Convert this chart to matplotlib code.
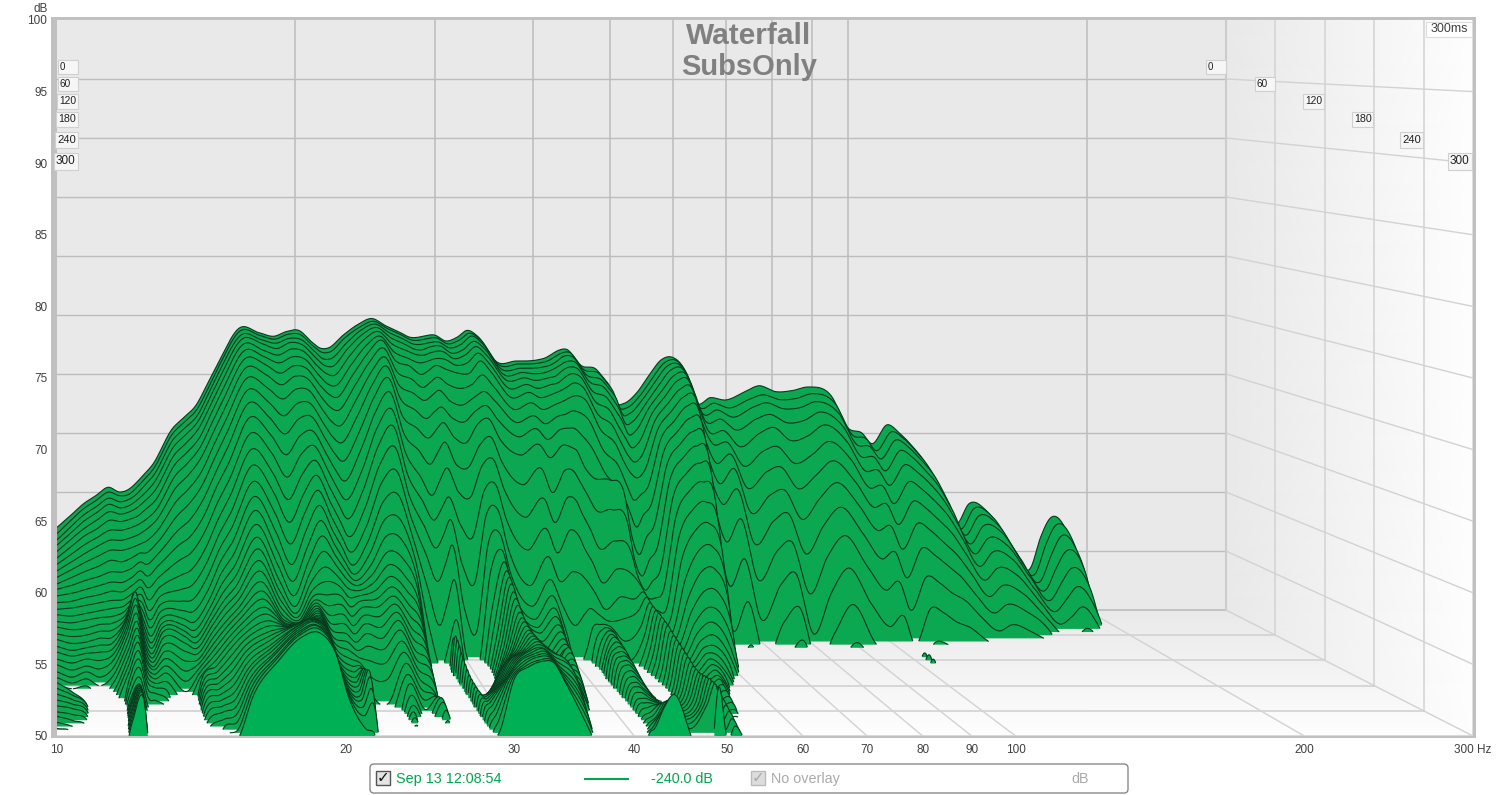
import numpy as np
import matplotlib
matplotlib.use("Agg")
import matplotlib.pyplot as plt
from matplotlib.colors import LinearSegmentedColormap
from matplotlib.patches import FancyBboxPatch, Rectangle
from matplotlib.ticker import NullLocator

plt.rcParams["font.family"] = ["Liberation Sans", "DejaVu Sans"]

# -------------------------------
# DATA (dB per time slice, one list per frequency, 7.5 ms steps)
# a list ends where that frequency stays under the 50 dB floor
# -------------------------------
times_ms = [0, 7.5, 15, 22.5, 30, 37.5, 45, 52.5, 60, 67.5, 75, 82.5, 90, 97.5, 105, 112.5, 120,
            127.5, 135, 142.5, 150, 157.5, 165, 172.5, 180, 187.5, 195, 202.5, 210, 217.5, 225,
            232.5, 240, 247.5, 255, 262.5, 270, 277.5, 285, 292.5, 300]

freqs_hz = [10, 10.4, 10.8, 11.2, 11.6, 12, 12.3, 12.6, 12.8, 13.2, 14, 14.4, 15, 15.5, 16, 17, 18,
            18.8, 19.5, 20.2, 21, 21.5, 22, 23, 24, 25, 26, 27, 28, 28.5, 29, 30, 31, 32, 33, 34,
            36, 38, 39, 40.5, 41.5, 42, 43, 44, 46, 48, 49, 50, 51, 52, 54, 56, 58, 60, 62, 64, 67,
            70, 74, 77, 81, 85, 89, 95, 100, 104, 107, 112, 116, 120, 125, 130, 137, 142, 150, 160,
            170, 175, 180, 190, 200]

db_10 = [57.0, 56.7, 56.4, 56.2, 55.9, 55.6, 55.3, 55, 54.7, 54.4, 54.2, 53.9, 53.6, 53.3, 53.1, 52.8, 52.6, 52.3, 52.1, 51.8, 51.6, 51.3, 51.1, 50.8, 50.6, 50.3, 49.9, 49.5, 49.5, 50.2, 51.6, 51.4, 51.2, 51, 50.8, 50.6, 50.5, 50.3, 50.1, 49.8, 49.5]
db_10_4 = [58.0, 57.8, 57.5, 57.2, 56.9, 56.5, 56.1, 55.7, 55.3, 54.9, 54.5, 54.1, 53.7, 53.4, 53, 52.7, 52.4, 52.1, 51.8, 51.5, 51.3, 51, 50.7, 50.4, 50.2, 50, 49.6, 49.4, 49.4, 49.6, 50.9, 50.9, 50.8, 50.7, 50.6, 50.4, 50.2, 50, 49.7, 49.5]
db_10_8 = [59, 58.8, 58.5, 58.2, 57.8, 57.4, 56.9, 56.4, 55.9, 55.4, 54.9, 54.4, 54, 53.6, 53.2, 52.9, 52.5, 52.2, 51.9, 51.7, 51.5, 51.3, 51, 50.8, 50.5, 50.2, 49.8, 49.4, 49.3, 49.4, 49.9, 50.1, 50.1, 50.1, 50, 49.9, 49.7, 49.4]
db_11_2 = [59.7, 59.5, 59.2, 58.9, 58.5, 58, 57.5, 57, 56.4, 55.8, 55.2, 54.7, 54.2, 53.8, 53.4, 53.1, 52.8, 52.5, 52.2, 51.9, 51.6, 51.2, 50.8, 50.4, 50, 49.5, 49.2]
db_11_6 = [60.4, 60.2, 59.9, 59.6, 59.2, 58.7, 58.1, 57.5, 56.9, 56.3, 55.6, 55, 54.5, 54, 53.6, 53.2, 52.9, 52.6, 52.3, 52.1, 51.9, 51.7, 51.5, 51.2, 50.9, 50.6, 50.2, 49.8, 49.4]
db_12 = [60, 59.9, 59.6, 59.3, 59, 58.6, 58.1, 57.5, 56.9, 56.2, 55.6, 55, 54.5, 54.1, 53.8, 53.6, 53.5, 53.5, 53.6, 53.8, 53.8, 53.7, 53.6, 53.4, 53.1, 52.8, 52.5, 52.2, 51.9, 51.6, 51.3, 51, 50.8, 50.8, 50.9, 51, 51, 51.1, 51.1, 51.1, 51.1]
db_12_3 = [60.2, 60, 59.8, 59.5, 59.2, 58.8, 58.3, 57.7, 57.1, 56.5, 55.9, 55.4, 55, 54.6, 54.4, 54.4, 54.6, 55.1, 55.6, 56, 56.2, 55.9, 55.6, 55.2, 54.8, 54.5, 54.2, 53.9, 53.5, 53.1, 52.7, 52.2, 51.9, 51.9, 52, 52.2, 52.3, 52.5, 52.6, 52.7, 52.7]
db_12_6 = [60.8, 60.6, 60.3, 60, 59.6, 59.1, 58.6, 58, 57.4, 56.9, 56.4, 55.9, 55.4, 55, 54.6, 54.2, 53.8, 53.4, 53.1, 52.8, 52.5, 52.3, 52.1, 51.9, 51.8, 51.6, 51.5, 51.3, 51.1, 50.8, 50.4, 49.9, 49.5]
db_12_8 = [61.3, 61.1, 60.8, 60.4, 60, 59.5, 58.9, 58.3, 57.6, 56.9, 56.2, 55.5, 54.8, 54.1, 53.5, 53, 52.6, 52.2, 51.9, 51.7, 51.5, 51.4, 51.3, 51.2, 51.2, 51.1, 51, 50.9, 50.8, 50.6, 50.3, 49.8, 49.5]
db_13_2 = [62.3, 62.1, 61.8, 61.4, 60.9, 60.3, 59.7, 59.1, 58.4, 57.7, 57, 56.3, 55.6, 55, 54.5, 54.1, 53.8, 53.5, 53.3, 53.2, 53.1, 52.9, 52.6, 52.3, 52, 51.7, 51.4, 51, 50.6, 50.2, 49.8, 49.4]
db_14 = [65.4, 65.2, 64.9, 64.5, 64, 63.4, 62.7, 61.9, 61, 60, 59, 58, 57, 56, 55.1, 54.4, 53.9, 53.5, 53.2, 53, 52.8, 52.5, 52.1, 51.6, 51.1, 50.6, 50.1, 49.6]
db_14_4 = [66.2, 66, 65.7, 65.3, 64.8, 64.2, 63.5, 62.7, 61.8, 60.8, 59.7, 58.6, 57.5, 56.4, 55.4, 54.5, 53.8, 53.2, 52.8, 52.5, 52.3, 52.1, 51.9, 51.7, 51.6, 51.5, 51.4, 51.3, 51.2, 51.1, 51, 50.9, 50.8, 50.6, 50.4, 50.2, 49.9, 49.6]
db_15 = [67.4, 67.2, 66.9, 66.6, 66.2, 65.6, 65, 64.3, 63.4, 62.5, 61.5, 60.4, 59.3, 58.2, 57.2, 56.3, 55.5, 54.9, 54.5, 54.2, 54, 53.8, 53.6, 53.4, 53.2, 53, 52.8, 52.6, 52.4, 52.2, 52, 51.8, 51.6, 51.4, 51.2, 51, 50.8, 50.5, 50.2, 49.8, 49.4]
db_15_5 = [69.2, 69, 68.8, 68.5, 68.1, 67.6, 67, 66.3, 65.5, 64.6, 63.6, 62.6, 61.5, 60.4, 59.4, 58.5, 57.7, 57, 56.4, 55.9, 55.5, 55.2, 54.9, 54.6, 54.4, 54.2, 54, 53.8, 53.6, 53.3, 53, 52.7, 52.4, 52.1, 51.8, 51.5, 51.2, 50.9, 50.6, 50.3, 50]
db_16 = [71, 70.9, 70.7, 70.4, 70, 69.5, 68.9, 68.2, 67.4, 66.5, 65.5, 64.4, 63.3, 62.2, 61.1, 60.1, 59.2, 58.4, 57.7, 57.1, 56.6, 56.2, 55.9, 55.6, 55.4, 55.2, 55, 54.8, 54.6, 54.4, 54.2, 54, 53.8, 53.6, 53.4, 53.3, 53.1, 53, 52.9, 52.8, 52.7]
db_17 = [73.9, 73.8, 73.6, 73.4, 73.1, 72.7, 72.2, 71.6, 70.9, 70.1, 69.2, 68.2, 67.1, 66, 64.9, 63.8, 62.8, 61.9, 61, 60.2, 59.5, 58.8, 58.2, 57.6, 57.1, 56.7, 56.3, 56, 55.7, 55.5, 55.3, 55.2, 55.1, 55, 55, 55, 55, 55.1, 55.1, 55.2, 55.2]
db_18 = [73.5, 73.4, 73.2, 73, 72.6, 72.2, 71.7, 71, 70.1, 69.1, 68, 66.8, 65.5, 64.1, 62.7, 61.3, 60, 58.8, 57.8, 56.9, 56.2, 55.7, 55.3, 55, 54.9, 54.9, 55, 55.1, 55.3, 55.5, 55.7, 55.9, 56.1, 56.2, 56.4, 56.5, 56.6, 56.7, 56.8, 56.9, 56.9]
db_18_8 = [73.2, 73.1, 72.9, 72.6, 72.2, 71.7, 71, 70.2, 69.2, 68, 66.7, 65.2, 63.6, 62, 60.4, 58.9, 57.5, 56.4, 55.5, 54.9, 54.6, 54.5, 54.5, 54.6, 54.8, 55, 55.2, 55.4, 55.7, 55.9, 56.2, 56.4, 56.6, 56.8, 57, 57.1, 57.2, 57.2, 57.3, 57.3, 57.2]
db_19_5 = [73.6, 73.5, 73.3, 73.1, 72.7, 72.2, 71.6, 70.9, 70, 69, 67.9, 66.7, 65.4, 64, 62.6, 61.3, 60.1, 59, 58.1, 57.4, 56.9, 56.5, 56.3, 56.2, 56.2, 56.2, 56.2, 56.2, 56.2, 56.2, 56.2, 56.2, 56.2, 56.2, 56.2, 56.2, 56.1, 56.1, 56, 56, 55.9]
db_20_2 = [73.7, 73.5, 73.2, 72.9, 72.5, 72, 71.4, 70.7, 69.9, 69, 68.1, 67.1, 66.1, 65.1, 64.1, 63.1, 62.1, 61.1, 60.1, 59.1, 58.1, 57.2, 56.4, 55.8, 55.3, 54.9, 54.6, 54.3, 54.1, 53.9, 53.7, 53.5, 53.4, 53.3, 53.2, 53.1, 53, 52.9, 52.8, 52.7, 52.5]
db_21 = [72.7, 72.5, 72.2, 71.8, 71.3, 70.7, 70, 69.2, 68.3, 67.3, 66.3, 65.2, 64.1, 63, 61.9, 60.9, 60, 59.2, 58.5, 57.9, 57.3, 56.8, 56.3, 55.8, 55.3, 54.8, 54.3, 53.9, 53.5, 53.1, 52.8, 52.6, 52.4, 52.3, 52.2, 52.1, 52, 51.9, 51.6, 51.2, 50.5]
db_21_5 = [72.2, 72, 71.6, 71.2, 70.7, 70, 69.3, 68.4, 67.4, 66.3, 65.2, 64, 62.8, 61.7, 60.6, 59.6, 58.8, 58.1, 57.5, 57, 56.5, 56, 55.5, 55, 54.5, 54.1, 53.7, 53.3, 53, 52.8, 52.7, 52.7, 52.8, 53, 53.2, 53.4, 53.6, 53.3, 52.7, 51.9, 50]
db_22 = [72.2, 72, 71.6, 71.1, 70.5, 69.8, 69, 68.1, 67, 65.8, 64.5, 63.1, 61.8, 60.5, 59.3, 58.3, 57.5, 57, 56.7, 56.5, 56.3, 56.1, 55.9, 55.6, 55.2, 54.8, 54.3, 53.6, 52.8, 51.9, 50.9, 49.9, 49.3]
db_23 = [73.3, 73.2, 72.9, 72.6, 72.1, 71.5, 70.8, 70, 69, 67.9, 66.7, 65.4, 64, 62.7, 61.4, 60.2, 59.2, 58.4, 57.8, 57.3, 56.9, 56.5, 56.1, 55.7, 55.2, 54.6, 54, 53.4, 52.6, 51.6, 50.1, 49.3]
db_24 = [74.2, 74.1, 74, 73.8, 73.5, 73.1, 72.6, 72, 71.3, 70.5, 69.6, 68.6, 67.5, 66.3, 65, 63.7, 62.4, 61.2, 60.1, 59.1, 58.3, 57.6, 57, 56.5, 56.1, 55.7, 55.3, 54.8, 54.2, 53.6, 53, 52.4, 51.9, 51.3, 50.8, 50.6, 50.4, 50.1, 49.6]
db_25 = [74.7, 74.6, 74.5, 74.35, 74.15, 73.9, 73.7, 73.2, 72.6, 72, 71.2, 70.2, 69, 67.8, 66.3, 64.6, 62.9, 61.2, 59.8, 58.5, 57.4, 56.5, 55.7, 55, 54.3, 53.7, 53.1, 52.6, 52.1, 51.6, 51.1, 50.6, 50.1, 49.6, 49.3]
db_26 = [74.1, 74, 73.8, 73.5, 73.1, 72.6, 72, 71.2, 70.3, 69.3, 68.1, 66.8, 65.4, 63.9, 62.4, 60.9, 59.5, 58.2, 57, 56, 55.1, 54.4, 53.8, 53.3, 52.8, 52.4, 52, 51.6, 51.1, 50.5, 50.4, 50.6, 50.9, 51.1, 51, 50.7, 50.2, 49.6]
db_27 = [73.6, 73.5, 73.3, 73, 72.6, 72.1, 71.6, 70.7, 69.7, 68.5, 67.2, 65.6, 63.7, 62, 60.2, 58.2, 55.8, 52.9, 50.3, 48.5, 48]
db_28 = [73.1, 73, 72.8, 72.5, 72.2, 71.7, 70.9, 70, 69.1, 67.8, 66.4, 64.5, 62.2, 60.4, 58.4, 56, 52.8, 49.8, 48.5]
db_28_5 = [73.1, 73, 72.8, 72.5, 72.2, 71.8, 71.2, 70.4, 69.5, 68.3, 67, 65.4, 63.3, 61.3, 59.4, 57.3, 54.5, 51.6, 50.4, 52.4, 52.8, 52.7, 52.5, 52.2, 52, 51.8, 51.6, 51.4, 51.3, 51.2, 51.1, 51, 50.9, 50.8, 50.7, 50.6, 50.5, 50.3, 50.1, 49.7, 49.4]
db_29 = [73.2, 73.1, 72.9, 72.7, 72.4, 72, 71.6, 70.8, 69.9, 68.7, 67.6, 66.2, 64.3, 62.2, 60.6, 58.8, 56.3, 53.4, 50.9, 49.6, 49.8, 49.8, 49.3, 49.2, 49.3, 49.5, 49.8, 50, 50.2, 50.5, 50.7, 50.9, 51, 51.1, 51.2, 51.3, 51.3, 51.2, 51.1, 50.8, 50.4]
db_30 = [73.3, 73.2, 73, 72.8, 72.5, 72, 71.3, 70.2, 69, 67.8, 66.4, 64.4, 62.4, 60, 57, 53.8, 50.4, 48.5, 48, 48, 48, 48, 48, 48, 48, 49.2, 49.8, 50.2, 50.6, 51, 51.3, 51.6, 51.9, 52.2, 52.5, 52.8, 53.1, 53.4, 53.6, 53.8, 54]
db_31 = [72.8, 72.7, 72.5, 72.2, 71.9, 71.5, 71, 69.9, 68.7, 67.5, 66, 64.2, 62, 59, 55.6, 52, 49.6, 48.5, 48.3, 48.5, 48.8, 49.1, 49.4, 49.8, 50.3, 50.9, 51.4, 51.9, 52.4, 52.8, 53.1, 53.4, 53.6, 53.8, 54, 54.2, 54.4, 54.5, 54.6, 54.7, 54.8]
db_32 = [73.1, 73, 72.8, 72.5, 72.2, 71.7, 71, 70.2, 69.3, 68.4, 67.5, 66, 64.5, 62.7, 61, 59, 56.9, 54.5, 53.4, 52.6, 52.4, 52.3, 52.3, 52.4, 52.6, 52.8, 53, 53.3, 53.5, 53.7, 53.9, 54.1, 54.3, 54.5, 54.7, 54.8, 54.9, 55, 55.1, 55.1, 55.2]
db_33 = [73.7, 73.6, 73.5, 73.2, 72.9, 72.5, 72, 71, 69.8, 68.8, 67.9, 66.6, 65, 63.2, 61.4, 59.7, 58.6, 57.9, 57.4, 57.1, 56.8, 56.4, 56.1, 55.8, 55.5, 55.3, 55.2, 55.1, 55, 55, 55, 55, 55, 55, 55, 55.1, 55.1, 55.1, 55.1, 55.1, 55.1]
db_34 = [73.2, 73.1, 72.9, 72.6, 72.2, 71.7, 71.1, 70.1, 69, 67.7, 66.3, 64.6, 62.6, 60.4, 58.2, 56.5, 55.4, 54.8, 54.6, 54.4, 54.3, 54.1, 53.9, 53.8, 53.8, 53.8, 53.9, 54, 54.1, 54.2, 54.3, 54.4, 54.5, 54.5, 54.4, 54.3, 54.2, 54.1, 54, 53.8, 53.6]
db_36 = [71, 70.9, 70.7, 70.4, 70.1, 69.6, 69, 68.2, 67.3, 66.3, 65, 62.8, 60.4, 58, 55.4, 54, 53.2, 52.8, 52.6, 52.2, 51.8, 51.6, 51.5, 51.5, 51.5, 51.6, 51.8, 52, 52.2, 52.4, 52.6, 52.8, 52.9, 53, 52.9, 52.6, 52.2, 51.8, 51.4, 50.9, 50.3]
db_38 = [71.1, 71, 70.8, 70.6, 70.3, 69.9, 69.4, 68.7, 67.8, 66.9, 65.8, 64, 61.8, 59.6, 57.6, 56, 54.9, 54.1, 53.6, 53.2, 52.9, 52.6, 52.4, 52.2, 52, 51.8, 51.5, 51.2, 50.9, 50.5, 50.1, 49.6, 49.3]
db_39 = [71.1, 71, 70.8, 70.5, 70.1, 69.6, 69, 68.2, 67.2, 66.1, 64.8, 62.2, 60, 57.8, 55.8, 54.2, 52.8, 51.8, 51.2, 50.8, 50.5, 50.3, 50.1, 49.6]
db_40_5 = [71.2, 71.1, 70.9, 70.6, 70.3, 69.9, 69.3, 68.6, 67.8, 66.9, 65.8, 64, 62, 59.6, 56.5, 52.5, 49.5, 48]
db_41_5 = [71.4, 71.3, 71.1, 70.9, 70.5, 70.1, 69.6, 68.9, 68, 67, 65.6, 63.8, 61.6, 59, 56.2, 53.4, 51, 49.4, 48.7, 48.4, 48.4, 48.4, 48.4, 48.4, 48.4, 48.4, 48.4, 48.4, 48.4, 48.4, 48.4, 48.4, 48.6, 48.8, 49, 49.2, 49.4, 49.6, 49.7, 50, 50.2]
db_42 = [71.6, 71.5, 71.3, 71.1, 70.8, 70.4, 69.8, 69.1, 68.2, 67, 65.4, 63.2, 60.8, 58.2, 55.8, 53.8, 52.4, 51.4, 50.8, 50.5, 50.5, 50.8, 51, 51.1, 51.1, 51, 50.9, 50.7, 50.6, 50.5, 50.5, 50.4, 50.3, 50.3, 50.2, 50.1, 50.1, 50.1, 50.2, 50.3, 50.5]
db_43 = [72, 71.9, 71.8, 71.5, 71.2, 70.8, 70.2, 69.3, 68.1, 66.4, 64, 62, 59.5, 57, 54.8, 53.4, 52.8, 52.7, 52.6, 52.6, 52.6, 52.5, 52.4, 52.3, 52.2, 52.1, 52, 51.8, 51.6, 51.4, 51.3, 51.1, 50.9, 50.8, 50.7, 50.6, 50.6, 50.7, 51, 51.5, 52]
db_44 = [72.1, 72, 71.8, 71.5, 71.1, 70.6, 69.9, 69, 67.6, 65.6, 63.2, 60.8, 58, 55.5, 53.6, 52.9, 52.7, 52.6, 52.6, 52.4, 52.4, 52.3, 52.2, 52, 51.9, 51.7, 51.5, 51.3, 51.1, 50.9, 50.8, 50.7, 50.7, 50.7, 50.9, 51.2, 51.5, 51.8, 52.1, 52.5, 52.9]
db_46 = [70.7, 70.5, 70.2, 69.8, 69.2, 68.5, 67.6, 66.5, 65, 63.2, 63, 60.8, 58.5, 56.5, 54.5, 53, 51.5, 50.2, 49.4, 49.2, 49.2, 49.3, 49.3, 49.4, 49.5, 49.6, 49.7, 49.8, 49.9, 50, 50.1, 50.2, 50.3, 50.3, 50.4, 50.4, 50.5, 50.5, 50.4, 50.3, 49.8]
db_48 = [70.4, 70.2, 69.8, 69.3, 68.6, 67.7, 66.6, 65.3, 63.7, 61.9, 61.8, 59.8, 57.8, 56, 54.4, 53.7, 52.8, 52.2, 51.9, 51.6, 51.4, 51.2, 51, 50.8, 50.6, 50.5, 50.5, 50.5, 50.6, 50.7, 50.8, 50.9, 51, 51.1, 51.2, 51.3, 51.4, 51.6, 51.8, 52]
db_49 = [69.7, 69.5, 69.1, 68.5, 67.7, 66.6, 65.4, 64, 62.3, 60.4, 58.4, 56.7, 55.7, 55.2, 54.9, 54.7, 54.5, 54.4, 54.3, 54.3, 54.2, 54.1, 54, 53.8, 53.7, 53.6, 53.5, 53.4, 53.3, 53.2, 53.1, 53, 53, 53, 53.1, 53.2, 53.3, 53.4, 53.4, 53.4, 53.4]
db_50 = [68.9, 68.7, 68.3, 67.6, 66.8, 65.6, 64.3, 63, 61, 59, 57, 55.5, 54.6, 54.2, 53.9, 53.7, 53.5, 53.4, 53.3, 53.2, 53.2, 53.1, 53, 52.9, 52.7, 52.6, 52.5, 52.4, 52.3, 52.2, 52.1, 52, 51.9, 51.7, 51.5, 51.3, 51.1, 50.9, 50.6, 50.3, 49.9]
db_51 = [67.5, 67.3, 66.9, 66.3, 65.6, 64.7, 63.7, 62.6, 61.4, 60, 58.4, 56.8, 55.3, 54.2, 53.4, 52.9, 52.5, 52.2, 52, 51.8, 51.7, 51.6, 51.6, 51.5, 51.5, 51.5, 51.5, 51.5, 51.6, 51.7, 51.8, 51.9, 52, 52, 52, 51.9, 51.7, 51.5, 51.3, 51, 50.7]
db_52 = [67.5, 67.3, 67, 66.5, 65.9, 65.1, 64.2, 63.2, 62, 60.7, 59.2, 57.6, 56, 54.6, 53.4, 52.6, 52.1, 51.8, 51.5, 51.3, 51.2, 51.1, 51.1, 51.1, 51, 51, 51, 51, 50.9, 50.9, 50.8, 50.7, 50.6, 50.5, 50.4, 50.3, 50.2, 50.1, 50.1, 50, 49.9]
db_54 = [68.4, 68.3, 68.2, 68, 67.8, 67.5, 67.1, 66.6, 66, 65.2, 64.3, 63.3, 62.1, 60.8, 59.4, 57.9, 56.4, 55.2, 54.3, 53.6, 53.1, 52.7, 52.4, 52.2, 52, 51.8, 51.6, 51.4, 51.2, 51, 50.8, 50.6, 50.4, 50.1, 49.8, 49.4]
db_56 = [69.9, 69.8, 69.7, 69.5, 69.2, 68.9, 68.5, 68, 67.4, 66.7, 65.9, 65, 63.9, 62.7, 61.4, 60, 58.6, 57.2, 55.9, 54.8, 53.9, 53.1, 52.4, 51.8, 51.2, 50.6, 50, 49.5]
db_58 = [71.2, 71.1, 71, 70.8, 70.5, 70.2, 69.7, 69.2, 68.6, 67.8, 66.9, 65.9, 64.7, 63.4, 62, 60.5, 58.9, 57.3, 55.7, 54.2, 52.9, 51.8, 50.8, 49.9, 49.4]
db_60 = [71.4, 71.3, 71.1, 70.9, 70.6, 70.2, 69.7, 69.1, 68.3, 67.4, 66.3, 65.1, 63.7, 62.1, 60.4, 58.6, 56.8, 55, 53.3, 51.7, 50.3, 49.4]
db_62 = [70.4, 70.1, 69.6, 69, 68.2, 67.1, 65.9, 64.6, 63, 61.2, 59, 56.6, 54, 52.4, 51.3, 50.4, 49.5]
db_64 = [67.7, 67.5, 67.1, 66.6, 65.9, 65.1, 63.7, 62.2, 60.7, 57.9, 54.6, 51.3, 49]
db_67 = [68, 67.7, 67.3, 66.7, 65.9, 65.1, 64.3, 63.3, 61.8, 59.6, 56.6, 53.4, 50.2, 48.8]
db_70 = [67.8, 67.3, 66.7, 65.8, 64.6, 63.2, 61.6, 59.8, 57.5, 54.8, 51.8, 49]
db_74 = [68.5, 68, 67.5, 66.7, 65.7, 64.4, 62.9, 61.2, 59.3, 57.1, 54.6, 51.9, 49.2]
db_77 = [69, 68.4, 67.9, 67.1, 66.2, 64.8, 63.3, 61.6, 59.9, 57.8, 55.5, 53, 50.6, 49]
db_81 = [68.5, 68, 67.4, 66.4, 65.1, 63.4, 61.5, 59.2, 56.6, 53.6, 50.6, 48.5]
db_85 = [68.6, 68.1, 67.5, 66.6, 65.5, 64.1, 62.6, 60.9, 58.9, 56.6, 53.9, 51, 48.6]
db_89 = [68.9, 68.5, 68, 67.3, 66.4, 65.2, 63.8, 62.2, 60.4, 58.3, 55.9, 53.2, 50.4, 48.8]
db_95 = [68.2, 67.7, 67, 66.1, 65, 63.7, 62.1, 60.3, 58.2, 55.8, 53, 50.1, 48]
db_100 = [65.4, 65, 64.4, 63.6, 62.6, 61.4, 60, 58.3, 56.2, 53.9, 51.2, 48.6]
db_104 = [65, 64.7, 64.2, 63.5, 62.6, 61.5, 60.2, 58.6, 56.7, 54.5, 52, 49.3, 48.5, 48.6, 49.4, 50.3, 50.4, 50.3, 49.6]
db_107 = [64.1, 63.7, 63.2, 62.4, 61.4, 60.1, 58.6, 56.8, 54.7, 52.3, 49.8, 48]
db_112 = [65.7, 65.3, 64.8, 64.1, 63.1, 61.9, 60.5, 58.9, 57.1, 55, 52.7, 50.2, 48.6]
db_116 = [65, 64.7, 64.2, 63.5, 62.5, 61.3, 59.9, 58.3, 56.5, 54.5, 52.3, 50, 48.4]
db_120 = [64, 63.7, 63.2, 62.5, 61.6, 60.4, 59, 57.4, 55.7, 53.7, 51.6, 49.3]
db_125 = [62.5, 62.2, 61.8, 61.1, 60.2, 59.1, 57.8, 56.3, 54.7, 53, 51.1, 49.2]
db_130 = [60.4, 60.1, 59.7, 59.1, 58.3, 57.3, 56.1, 54.8, 53.3, 51.8, 50.2, 48.6]
db_137 = [57.3, 57.1, 56.8, 56.3, 55.7, 54.9, 54, 52.9, 51.8, 50.6, 49.4]
db_142 = [59, 58.8, 58.4, 57.8, 57, 56.1, 55, 53.8, 52.5, 51.1, 49.7]
db_150 = [58.3, 58.1, 57.7, 57.2, 56.4, 55.5, 54.4, 53.2, 51.9, 50.5, 49]
db_160 = [55.5, 55.3, 54.9, 54.4, 53.8, 53, 52.2, 51.3, 50.3, 49.3]
db_170 = [53.6, 53.4, 53, 52.5, 51.9, 51.2, 50.4, 49.6]
db_175 = [56.2, 55.8, 55.1, 54.3, 53.3, 52.2, 51, 49.7]
db_180 = [57.8, 57.4, 56.7, 55.7, 54.5, 53.2, 51.8, 50.3, 48.8]
db_190 = [56.2, 55.8, 55, 54, 52.8, 51.4, 49.9, 48.5]
db_200 = [50.5, 50.2, 49.8]

columns = [db_10, db_10_4, db_10_8, db_11_2, db_11_6, db_12, db_12_3, db_12_6, db_12_8, db_13_2, db_14,
           db_14_4, db_15, db_15_5, db_16, db_17, db_18, db_18_8, db_19_5, db_20_2, db_21, db_21_5,
           db_22, db_23, db_24, db_25, db_26, db_27, db_28, db_28_5, db_29, db_30, db_31, db_32, db_33,
           db_34, db_36, db_38, db_39, db_40_5, db_41_5, db_42, db_43, db_44, db_46, db_48, db_49,
           db_50, db_51, db_52, db_54, db_56, db_58, db_60, db_62, db_64, db_67, db_70, db_74, db_77,
           db_81, db_85, db_89, db_95, db_100, db_104, db_107, db_112, db_116, db_120, db_125, db_130,
           db_137, db_142, db_150, db_160, db_170, db_175, db_180, db_190, db_200]

freq_ticks = [10, 20, 30, 40, 50, 60, 70, 80, 90, 100, 200, 300]
freq_tick_labels = ["10", "20", "30", "40", "50", "60", "70", "80", "90", "100", "200", "300 Hz"]
db_ticks = [50, 55, 60, 65, 70, 75, 80, 85, 90, 95, 100]
time_ticks = [0, 60, 120, 180, 240, 300]

# -------------------------------
# LAYOUT
# -------------------------------
W, H = 1499, 795
LEFT, RIGHT, TOP, BOTTOM = 57, 1473, 20, 736
BACK_RIGHT, BACK_FLOOR = 1226, 610

BAND = LinearSegmentedColormap.from_list("band", ["#E9E9E9", "#FEFEFE"])
GREEN_BACK, GREEN_FRONT = "#0CA751", "#00B054"
LINE_DARK = "#07391D"
GRID_BACK = "#BCBCBC"
GRID_SIDE = "#D2D2D2"
TEXT_DARK = "#404040"
LEGEND_GREEN = "#00A651"

fig = plt.figure(figsize=(W / 100, H / 100), dpi=100, facecolor="white")
ax = fig.add_axes([LEFT / W, 1 - BOTTOM / H, (RIGHT - LEFT) / W, (BOTTOM - TOP) / H])
ax.set_xscale("log")
ax.set_xlim(10, 300)
ax.set_ylim(50, 100)
ax.set_facecolor("#E9E9E9")

LOG_SPAN = np.log10(30)
back_width = (BACK_RIGHT - LEFT) / (RIGHT - LEFT)
back_floor_db = 50 + 50 * (BOTTOM - BACK_FLOOR) / (BOTTOM - TOP)


def project(freq, level, depth):
    # maps (Hz, dB, depth 0 back .. 1 front) to the front plane of the axes
    u = np.log10(np.asarray(freq, dtype=float) / 10) / LOG_SPAN
    width = back_width + (1 - back_width) * depth
    x = 10 * 10 ** (u * width * LOG_SPAN)
    floor = back_floor_db + (50 - back_floor_db) * depth
    y = floor + (np.asarray(level, dtype=float) - 50) / 50 * (100 - floor)
    return x, y


def smooth(x_fine, x_known, y_known):
    # cubic through the read values, only so the drawn lines are not faceted
    slopes = np.gradient(y_known, x_known)
    k = np.clip(np.searchsorted(x_known, x_fine) - 1, 0, len(x_known) - 2)
    h = x_known[k + 1] - x_known[k]
    t = (x_fine - x_known[k]) / h
    a = (1 + 2 * t) * (1 - t) ** 2
    b = t * (1 - t) ** 2
    c = t ** 2 * (3 - 2 * t)
    e = t ** 2 * (t - 1)
    return a * y_known[k] + b * h * slopes[k] + c * y_known[k + 1] + e * h * slopes[k + 1]


# -------------------------------
# WALLS AND FLOOR
# -------------------------------
depths = np.array([0.0, 1.0])
floor_f = np.array([10.0, 300.0])
fx, fy = [], []
for d in depths:
    px, py = project(floor_f, [50, 50], d)
    fx.append(px)
    fy.append(py)
ax.pcolormesh(np.array(fx), np.array(fy), np.array([[0, 0], [1, 1]]), cmap=BAND, vmin=0, vmax=1,
              shading="gouraud", zorder=1)

wx, wy = [], []
for level in [50, 100]:
    px, py = project([300, 300], [level, level], depths)
    wx.append(px)
    wy.append(py)
ax.pcolormesh(np.array(wx), np.array(wy), np.array([[0, 1], [0, 1]]), cmap=BAND, vmin=0, vmax=1,
              shading="gouraud", zorder=1)

# back wall grid
for level in db_ticks[1:-1]:
    px, py = project([10, 300], [level, level], 0)
    ax.plot(px, py, color=GRID_BACK, lw=1.0, zorder=2)
    px, py = project([300, 300], [level, level], depths)
    ax.plot(px, py, color=GRID_SIDE, lw=1.0, zorder=2)
for f in freq_ticks[1:]:
    px, py = project([f, f], [50, 100], 0)
    ax.plot(px, py, color=GRID_BACK, lw=1.5 if f == 300 else 1.1, zorder=2)
    px, py = project([f, f], [50, 50], depths)
    ax.plot(px, py, color=GRID_SIDE, lw=1.0, zorder=2)

# time lines on the floor and the right wall
for t in time_ticks:
    d = t / 300
    px, py = project([10, 300], [50, 50], d)
    ax.plot(px, py, color=GRID_BACK if t == 0 else GRID_SIDE, lw=1.2, zorder=2)
    px, py = project([300, 300], [50, 100], d)
    ax.plot(px, py, color=GRID_SIDE, lw=1.1, zorder=2)

# -------------------------------
# WATERFALL SLICES, BACK TO FRONT
# -------------------------------
freqs = np.array(freqs_hz, dtype=float)
log_f = np.log10(freqs)
fine_f = 10 ** np.linspace(1, np.log10(freqs_hz[-1]), 2200)
log_fine = np.log10(fine_f)

for i, t in enumerate(times_ms):
    d = t / 300
    row = np.array([c[i] if i < len(c) else 47.0 for c in columns], dtype=float)
    levels = smooth(log_fine, log_f, row)
    above = levels >= 50
    edges = np.flatnonzero(np.diff(np.concatenate([[0], above.astype(int), [0]])))
    color = GREEN_FRONT if i == len(times_ms) - 1 else GREEN_BACK
    for start, stop in zip(edges[::2], edges[1::2]):
        if stop - start < 2:
            continue
        seg_f = fine_f[start:stop]
        seg_db = levels[start:stop]
        px, py = project(seg_f, seg_db, d)
        bx, by = project(seg_f[[-1, 0]], [50, 50], d)
        ax.fill(np.r_[px, bx], np.r_[py, by], color=color, lw=0, zorder=10 + i)
        ax.plot(px, py, color=LINE_DARK, lw=0.8, zorder=10 + i, solid_capstyle="butt")

# -------------------------------
# AXES STYLING
# -------------------------------
ax.set_xticks(freq_ticks, labels=freq_tick_labels)
ax.xaxis.set_minor_locator(NullLocator())
ax.set_yticks(db_ticks)
ax.tick_params(length=0, labelsize=8.5, labelcolor=TEXT_DARK)
ax.tick_params(axis="x", pad=6)
ax.tick_params(axis="y", pad=7)
for spine in ax.spines.values():
    spine.set_visible(False)

# -------------------------------
# OVERLAY: FRAME, TITLE, TIME LABELS, LEGEND (pixel coordinates)
# -------------------------------
ui = fig.add_axes([0, 0, 1, 1], zorder=5)
ui.set_xlim(0, W)
ui.set_ylim(H, 0)
ui.axis("off")

for x0, y0, w, h in [(51, 17, 6, 721), (51, 17, 1425, 3), (1473, 17, 3, 721), (51, 736, 1425, 2)]:
    ui.add_patch(Rectangle((x0, y0), w, h, fc="#C0C0C0", ec="none"))

ui.text(41, 9, "dB", fontsize=8.5, color=TEXT_DARK, ha="center", va="center")
ui.text(749, 36, "Waterfall", fontsize=21.5, fontweight="bold", color="#808080", ha="center", va="center")
ui.text(749, 67, "SubsOnly", fontsize=21, fontweight="bold", color="#808080", ha="center", va="center")

label_boxes_left = [(58, 60, 20, 14), (58, 77, 20, 14), (57, 94, 21, 15), (56, 112, 22, 15), (55, 132, 23, 16), (54, 153, 24, 17)]
label_boxes_right = [(1206, 60, 20, 14), (1255, 77, 20, 14), (1303, 94, 21, 15), (1352, 112, 21, 15), (1400, 132, 23, 16), (1448, 153, 24, 17)]
label_size = [7, 7.2, 7.4, 7.7, 8.1, 8.5]
for t, lb, rb, size in zip(time_ticks, label_boxes_left, label_boxes_right, label_size):
    for x0, y0, w, h in [lb, rb]:
        ui.add_patch(Rectangle((x0, y0), w, h, fc="#F6F6F6", ec="#D0D0D0", lw=0.8))
        ui.text(x0 + 2, y0 + h / 2, str(t), fontsize=size, color="#202020", ha="left", va="center")

ui.add_patch(Rectangle((1426, 22), 46, 15, fc="white", ec="#DCDCDC", lw=0.8))
ui.text(1431, 29.5, "300ms", fontsize=9, color=TEXT_DARK, ha="left", va="center")

ui.add_patch(FancyBboxPatch((370, 764), 758, 29, boxstyle="round,pad=0,rounding_size=4",
                            fc="white", ec="#8A8A8A", lw=1.0))
ui.add_patch(Rectangle((376, 771), 14, 14, fc="#E4E4E4", ec="#555555", lw=1.0))
ui.text(383, 778, "\u2713", fontsize=11, family="DejaVu Sans", fontweight="bold", color="#111111",
        ha="center", va="center")
ui.text(396, 779, "Sep 13 12:08:54", fontsize=10.4, color=LEGEND_GREEN, ha="left", va="center")
ui.plot([585, 628], [779, 779], color=LEGEND_GREEN, lw=1.5)
ui.text(651, 779, "-240.0 dB", fontsize=10.4, color=LEGEND_GREEN, ha="left", va="center")
ui.add_patch(Rectangle((751, 771), 14, 14, fc="#DDDDDD", ec="#BBBBBB", lw=1.0))
ui.text(758, 778, "\u2713", fontsize=11, family="DejaVu Sans", fontweight="bold", color="#A8A8A8",
        ha="center", va="center")
ui.text(771, 779, "No overlay", fontsize=10.4, color="#AAAAAA", ha="left", va="center")
ui.text(1071, 779, "dB", fontsize=10.4, color="#AAAAAA", ha="left", va="center")

fig.savefig("out.png", dpi=100, facecolor="white")
